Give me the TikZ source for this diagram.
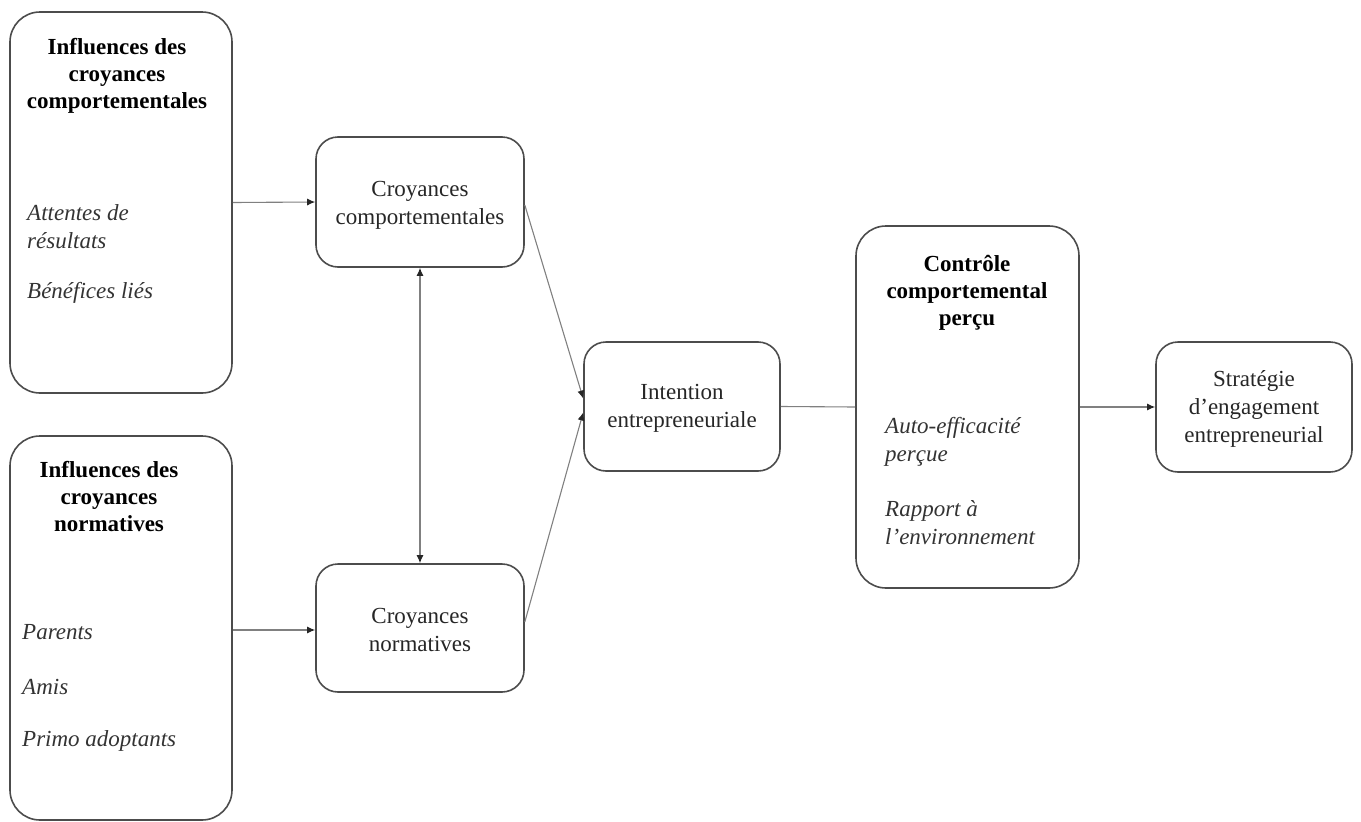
\documentclass[tikz,border=0pt]{standalone}
\usepackage{fontspec}
\setmainfont{Liberation Serif}
\usetikzlibrary{arrows.meta}
\begin{document}
\begin{tikzpicture}[x=1pt,y=-1pt,
  box/.style={draw=black!70,line width=1.6pt,rounded corners=#1,inner sep=0pt},
  box/.default=22pt,
  txt/.style={font=\fontsize{23}{28}\selectfont,align=center,inner sep=0pt,text=black!85},
  head/.style={txt,font=\fontsize{23}{27}\selectfont\bfseries,text=black},
  item/.style={txt,font=\fontsize{23}{28}\selectfont\itshape,align=left,anchor=west,text=black!80},
  tip/.style={Latex[length=8pt,width=7pt,color=black!85]},
  link/.style={draw=black!50,line width=1.1pt},
  arr/.style={link,-{Latex[length=8pt,width=7pt,color=black!85]}},
  biarr/.style={link,{Latex[length=8pt,width=7pt,color=black!85]}-{Latex[length=8pt,width=7pt,color=black!85]}}]
\useasboundingbox (0,0) rectangle (1361,822);

% boxes
\node[box=30pt,minimum width=222pt,minimum height=381pt] (A) at (121,202.5) {};
\node[box=30pt,minimum width=222pt,minimum height=384pt] (B) at (121,628) {};
\node[box,minimum width=208pt,minimum height=130pt] (C) at (420,202) {};
\node[box,minimum width=208pt,minimum height=128pt] (D) at (420,628) {};
\node[box,minimum width=196pt,minimum height=129pt] (E) at (682,406.5) {};
\node[box=30pt,minimum width=223pt,minimum height=362pt] (F) at (967.5,407) {};
\node[box,minimum width=196pt,minimum height=130pt] (G) at (1254,407) {};

% texts
\node[head] (Ah) at (117,76) {Influences des\\croyances\\comportementales};
\node[item] (Ai1) at (27,227) {Attentes de\\résultats};
\node[item] (Ai2) at (27,293) {Bénéfices liés};

\node[head] (Bh) at (109,497) {Influences des\\croyances\\normatives};
\node[item] (Bi1) at (22,632) {Parents};
\node[item] (Bi2) at (22,687) {Amis};
\node[item] (Bi3) at (22,741) {Primo adoptants};

\node[txt] (Ct) at (420,205) {Croyances\\comportementales};
\node[txt] (Dt) at (420,630) {Croyances\\normatives};
\node[txt] (Et) at (682,408) {Intention\\entrepreneuriale};

\node[head] (Fh) at (967,293) {Contrôle\\comportemental\\perçu};
\node[item] (Fi1) at (885,442) {Auto-efficacité\\perçue};
\node[item] (Fi2) at (885,523) {Rapport à\\l'environnement};

\node[txt] (Gt) at (1254,409) {Stratégie\\d'engagement\\entrepreneurial};

% connectors
\draw[arr] (A.east) -- (C.west);
\draw[arr] ([yshift=-2pt]B.east) -- ([yshift=-2pt]D.west);
\draw[biarr] (C.south) -- (D.north);
\draw[arr] ([yshift=-3pt]C.east) -- ([yshift=8pt]E.west);
\draw[arr] ([yshift=6pt]D.east) -- ([yshift=-6pt]E.west);
\draw[link] (E.east) -- (F.west);
\draw[arr] (F.east) -- (G.west);
\end{tikzpicture}
\end{document}
